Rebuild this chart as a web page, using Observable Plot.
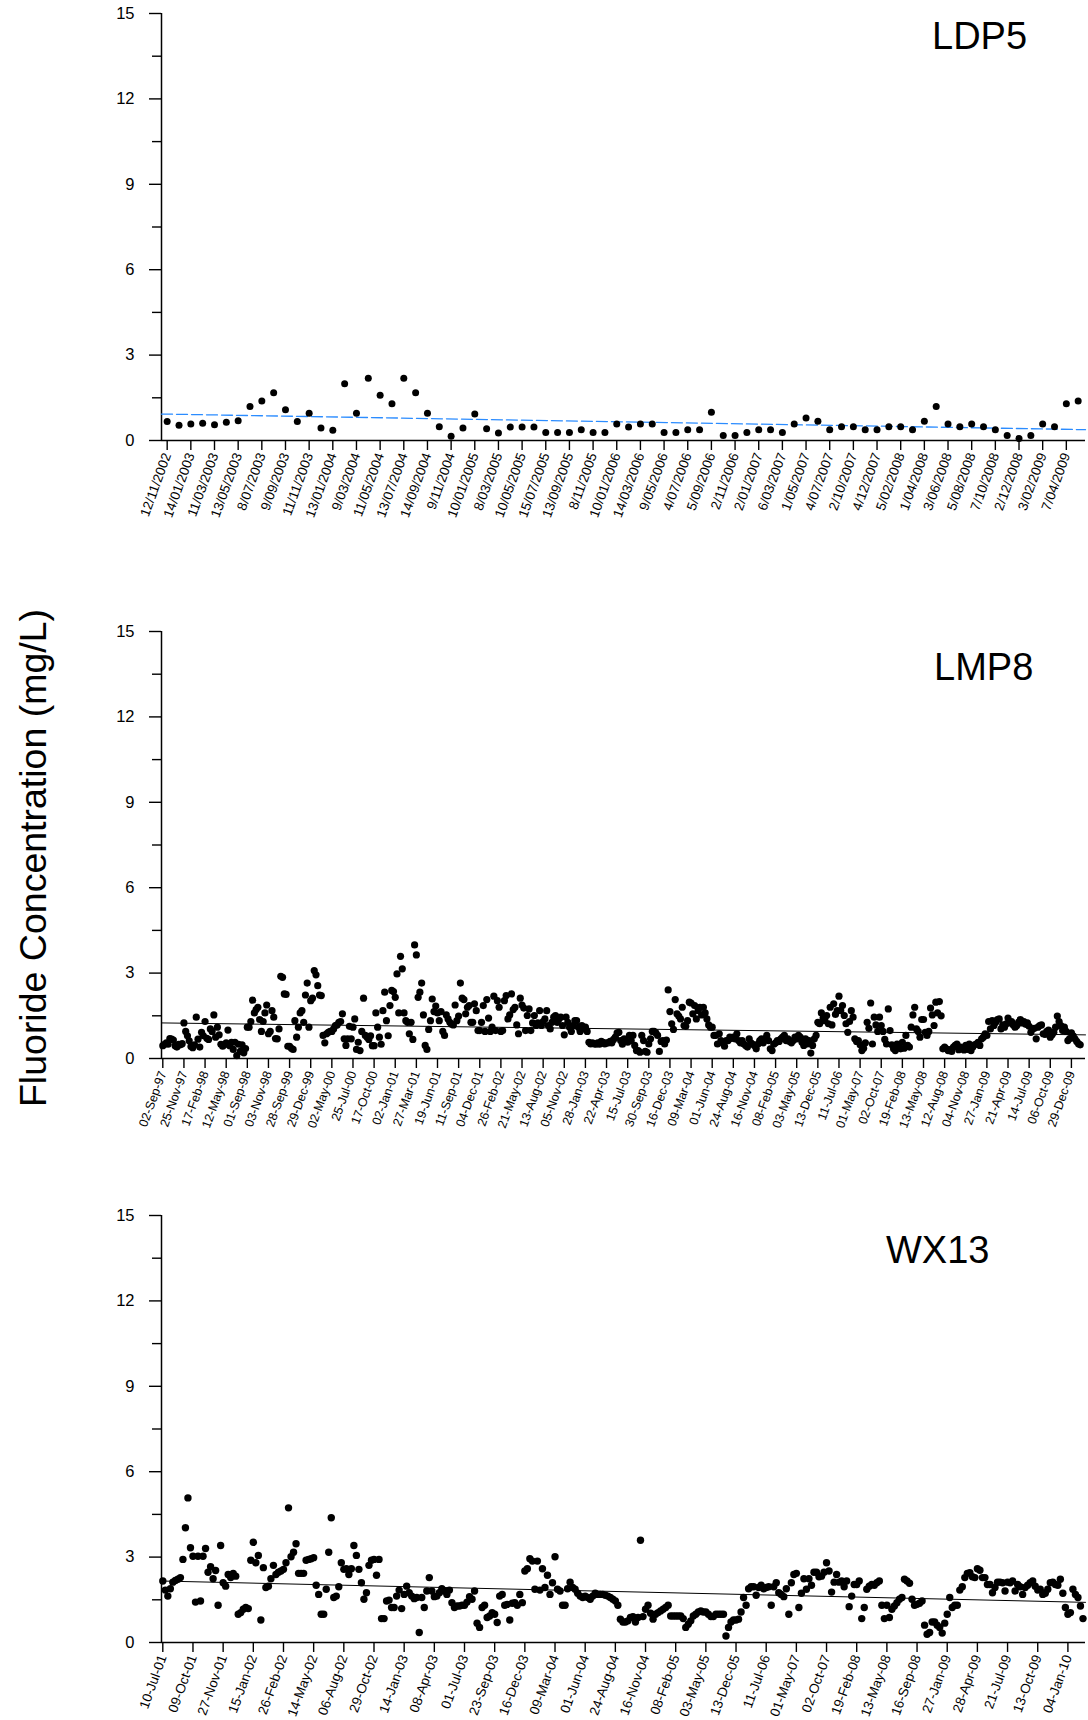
<!DOCTYPE html>
<html>
<head>
<meta charset="utf-8">
<script src="https://cdn.jsdelivr.net/npm/d3@7"></script>
<script src="https://cdn.jsdelivr.net/npm/@observablehq/plot@0.6"></script>
<style>
  body { margin: 0; background: #fff; }
  #page { position: relative; width: 1088px; height: 1720px; overflow: hidden; background: #fff;
          font-family: "Liberation Sans", Arial, sans-serif; }
  .panel { position: absolute; left: 0; }
  #overlay { position: absolute; left: 0; top: 0; pointer-events: none; }
</style>
</head>
<body>
<div id="page"></div>
<script>
// ---------------- DATA ----------------
const yMajorTicks = [0, 3, 6, 9, 12, 15];
const yMinorTicks = [1.5, 4.5, 7.5, 10.5, 13.5];
const yTitle = "Fluoride Concentration (mg/L)";

// LDP5 : one label every 2 samples
const ldp5Title = "LDP5";
const ldp5Labels = ["12/11/2002","14/01/2003","11/03/2003","13/05/2003","8/07/2003","9/09/2003","11/11/2003",
  "13/01/2004","9/03/2004","11/05/2004","13/07/2004","14/09/2004","9/11/2004","10/01/2005","8/03/2005",
  "10/05/2005","15/07/2005","13/09/2005","8/11/2005","10/01/2006","14/03/2006","9/05/2006","4/07/2006",
  "5/09/2006","2/11/2006","2/01/2007","6/03/2007","1/05/2007","4/07/2007","2/10/2007","4/12/2007",
  "5/02/2008","1/04/2008","3/06/2008","5/08/2008","7/10/2008","2/12/2008","3/02/2009","7/04/2009"];
const ldp5SamplesPerLabel = 2;
const ldp5Values = [
  0.67,0.54,0.58,0.61,0.55,0.64,0.69,1.19,1.39,1.68,
  1.08,0.67,0.96,0.44,0.36,1.99,0.96,2.19,1.59,1.29,
  2.19,1.68,0.96,0.48,0.15,0.44,0.93,0.41,0.26,0.47,
  0.47,0.47,0.28,0.28,0.28,0.38,0.28,0.28,0.58,0.47,
  0.58,0.58,0.28,0.28,0.38,0.38,0.99,0.18,0.18,0.28,
  0.38,0.38,0.28,0.58,0.79,0.68,0.38,0.48,0.48,0.38,
  0.38,0.48,0.48,0.38,0.68,1.19,0.58,0.48,0.58,0.48,
  0.38,0.18,0.07,0.18,0.58,0.48,1.29,1.39];
const ldp5Trend = [0.93, 0.38];   // trend value at the left and right ends of the axis

// LMP8 : one label every 12 samples
const lmp8Title = "LMP8";
const lmp8Labels = ["02-Sep-97","25-Nov-97","17-Feb-98","12-May-98","01-Sep-98","03-Nov-98","28-Sep-99",
  "29-Dec-99","02-May-00","25-Jul-00","17-Oct-00","02-Jan-01","27-Mar-01","19-Jun-01","11-Sep-01",
  "04-Dec-01","26-Feb-02","21-May-02","13-Aug-02","05-Nov-02","28-Jan-03","22-Apr-03","15-Jul-03",
  "30-Sep-03","16-Dec-03","09-Mar-04","01-Jun-04","24-Aug-04","16-Nov-04","08-Feb-05","03-May-05",
  "13-Dec-05","11-Jul-06","01-May-07","02-Oct-07","19-Feb-08","13-May-08","12-Aug-08","04-Nov-08",
  "27-Jan-09","21-Apr-09","14-Jul-09","06-Oct-09","29-Dec-09"];
const lmp8SamplesPerLabel = 12;
const lmp8Values = [
  0.45,0.5,0.55,0.5,0.7,0.68,0.65,0.45,0.4,0.5,0.48,0.52,
  1.25,0.95,0.8,0.62,0.42,0.38,0.48,1.45,0.68,0.4,0.92,0.8,
  1.3,0.71,0.67,1.04,0.95,1.53,0.75,1.1,0.83,0.5,0.43,0.48,
  0.55,1.0,0.45,0.57,0.32,0.57,0.1,0.5,0.25,0.48,0.2,0.35,
  1.1,1.1,1.3,2.05,1.6,1.72,1.8,1.37,0.95,1.3,1.6,1.88,
  0.87,0.95,1.68,1.45,0.7,0.69,1.04,2.89,2.85,2.27,2.25,0.43,
  0.43,0.36,0.32,1.33,0.75,1.1,1.6,1.68,1.27,2.23,2.65,1.1,
  2.03,2.12,3.09,2.94,2.56,2.23,2.21,0.81,0.55,0.87,0.92,0.95,
  0.95,1.04,1.16,1.18,1.27,1.3,1.57,0.69,0.46,0.69,1.13,0.69,
  1.1,1.39,0.32,0.57,0.28,0.95,2.12,0.81,0.75,0.67,0.8,0.45,
  0.45,1.6,1.1,0.75,0.5,1.68,2.33,1.33,0.8,1.86,2.39,2.35,
  2.15,2.97,1.6,3.59,3.15,1.6,1.33,1.27,0.87,1.27,0.67,3.99,
  3.64,2.15,2.33,2.65,1.53,0.46,0.32,1.02,1.33,2.09,1.65,1.84,
  1.6,1.33,1.65,0.95,0.81,1.53,1.39,1.27,1.2,1.18,1.88,1.33,
  1.49,2.65,2.12,2.07,1.57,1.8,1.86,1.27,1.27,1.92,1.68,0.98,
  0.98,1.27,1.86,0.95,2.07,1.42,0.95,1.1,2.19,0.98,2.03,1.8,
  0.95,0.98,2.03,2.21,1.39,1.53,2.27,1.72,1.8,1.18,0.87,2.12,
  1.88,1.77,0.98,1.51,1.74,0.98,1.25,1.51,1.16,1.25,1.68,1.16,
  1.3,1.39,1.68,1.16,1.04,1.27,1.45,1.51,1.27,1.39,1.45,1.16,
  0.83,1.45,1.27,1.1,0.95,1.16,1.33,1.33,1.1,0.95,1.16,1.04,
  1.1,0.95,0.57,0.51,0.55,0.51,0.5,0.55,0.5,0.6,0.57,0.51,
  0.55,0.55,0.6,0.55,0.67,0.75,0.9,0.92,0.63,0.5,0.69,0.6,
  0.57,0.81,0.63,0.81,0.46,0.28,0.28,0.22,0.81,0.63,0.25,0.22,
  0.51,0.69,0.95,0.95,0.9,0.81,0.25,0.6,0.63,0.51,0.65,2.41,
  1.65,1.22,1.02,2.07,1.57,1.49,1.39,1.8,1.16,1.13,1.33,1.98,
  1.95,1.57,1.86,1.39,1.68,1.8,1.53,1.8,1.6,1.39,1.18,1.1,
  1.1,0.81,0.81,0.51,0.87,0.63,0.55,0.43,0.63,0.63,0.75,0.71,
  0.75,0.69,0.87,0.63,0.55,0.63,0.51,0.46,0.4,0.69,0.55,0.5,
  0.46,0.34,0.51,0.63,0.69,0.55,0.69,0.81,0.63,0.34,0.28,0.5,
  0.55,0.63,0.6,0.69,0.75,0.81,0.63,0.69,0.6,0.55,0.63,0.75,
  0.69,0.81,0.75,0.57,0.46,0.69,0.51,0.63,0.19,0.46,0.69,0.81,
  1.27,1.22,1.6,1.42,1.33,1.51,1.22,1.8,1.18,1.92,1.55,1.68,
  2.19,1.68,1.86,1.51,1.22,0.92,1.3,1.68,1.45,0.69,0.6,0.63,
  0.48,0.28,0.36,0.55,1.27,1.06,1.95,0.51,1.45,1.18,0.95,1.45,
  1.16,0.95,0.67,0.51,1.74,0.98,0.48,0.34,0.28,0.51,0.4,0.34,
  0.57,0.36,0.81,0.46,0.4,1.1,1.53,1.8,1.04,0.95,0.75,1.37,
  1.37,0.92,0.81,0.95,1.77,1.53,1.16,1.98,1.6,2.0,1.5,0.34,
  0.4,0.34,0.28,0.31,0.25,0.4,0.46,0.51,0.31,0.4,0.34,0.3,
  0.46,0.32,0.51,0.28,0.4,0.48,0.51,0.57,0.46,0.69,0.75,0.87,
  0.81,1.3,1.04,1.33,1.16,1.27,1.37,1.39,1.04,1.18,1.1,1.22,
  1.42,1.25,1.3,1.18,1.1,1.16,1.27,1.37,1.25,1.3,1.2,1.25,
  1.13,0.92,1.04,1.06,0.69,1.1,1.16,1.18,0.87,0.85,0.95,1.0,
  0.75,0.83,0.92,1.1,1.49,1.3,1.16,0.98,1.1,0.95,0.63,0.7,
  0.9,0.8,0.69,0.6,0.52,0.48];
const lmp8Trend = [1.25, 0.83];

// WX13 : one label every 12 samples
const wx13Title = "WX13";
const wx13Labels = ["10-Jul-01","09-Oct-01","27-Nov-01","15-Jan-02","26-Feb-02","14-May-02","06-Aug-02",
  "29-Oct-02","14-Jan-03","08-Apr-03","01-Jul-03","23-Sep-03","16-Dec-03","09-Mar-04","01-Jun-04",
  "24-Aug-04","16-Nov-04","08-Feb-05","03-May-05","13-Dec-05","11-Jul-06","01-May-07","02-Oct-07",
  "19-Feb-08","13-May-08","16-Sep-08","27-Jan-09","28-Apr-09","21-Jul-09","13-Oct-09","04-Jan-10"];
const wx13SamplesPerLabel = 12;
const wx13Values = [
  2.16,1.84,1.63,1.89,2.12,2.18,2.22,2.28,2.92,4.03,5.08,3.33,
  3.03,1.42,3.03,1.46,3.03,3.3,2.47,2.66,2.24,2.53,1.31,3.41,
  2.1,1.98,2.39,2.28,2.43,2.33,0.99,1.05,1.17,1.23,1.19,2.89,
  3.52,2.8,3.06,0.79,2.63,1.93,1.98,2.24,2.71,2.39,2.47,2.51,
  2.57,2.8,4.73,3.01,3.17,3.47,2.43,2.43,2.43,2.89,2.92,2.94,
  2.98,2.01,1.69,0.99,0.99,1.87,3.17,4.38,1.58,1.63,1.96,2.8,
  2.57,2.59,2.39,2.59,3.41,3.06,2.57,2.1,1.52,1.75,2.71,2.89,
  2.92,2.36,2.92,0.84,0.84,1.46,1.49,1.23,1.23,1.63,1.84,1.19,
  1.69,1.98,1.75,1.63,1.54,1.58,0.35,1.58,1.23,1.81,2.28,1.81,
  1.61,1.63,1.75,1.89,1.81,1.69,1.84,1.4,1.23,1.28,1.28,1.31,
  1.31,1.42,1.61,1.52,1.81,0.68,0.53,1.23,1.31,0.88,0.93,1.05,
  0.99,0.7,1.63,1.69,1.31,1.34,0.79,1.38,1.4,1.31,1.69,1.4,
  2.51,2.59,2.94,2.86,1.87,2.86,1.84,2.59,1.93,2.36,1.69,2.1,
  3.01,1.87,1.81,1.31,1.31,1.89,2.12,1.93,1.87,1.73,1.63,1.58,
  1.63,1.58,1.52,1.63,1.73,1.69,1.69,1.69,1.66,1.63,1.58,1.52,
  1.46,1.31,0.82,0.72,0.72,0.76,0.88,0.91,0.72,0.88,3.59,0.91,
  1.17,1.31,1.03,0.82,0.99,1.05,1.11,1.17,1.23,1.31,0.93,0.93,
  0.93,0.93,0.93,0.84,0.53,0.64,0.76,0.93,0.99,1.07,1.11,1.07,
  1.07,0.99,0.91,0.91,0.99,0.99,0.99,0.99,0.23,0.53,0.72,0.79,
  0.79,0.82,1.07,1.58,1.31,1.89,1.96,1.96,1.66,1.93,2.01,1.89,
  1.93,1.96,1.31,1.96,2.1,1.75,1.69,1.61,1.89,0.99,2.1,2.39,
  2.43,1.23,1.73,2.24,1.87,2.24,2.01,2.47,2.47,2.31,2.33,2.47,
  2.8,2.51,1.77,2.12,2.39,2.12,2.16,1.96,2.16,1.26,1.63,2.04,
  2.04,2.16,0.84,1.23,1.87,1.98,2.04,2.01,2.1,2.16,1.31,0.84,
  1.31,0.88,1.17,1.28,1.4,1.52,1.58,2.22,2.16,2.08,1.52,1.31,
  1.34,1.38,1.46,0.61,0.29,0.35,0.72,0.72,0.61,0.53,0.33,0.68,
  0.99,1.58,1.23,1.31,1.31,1.84,1.96,2.28,2.43,2.45,2.31,2.28,
  2.59,2.54,2.28,2.28,2.04,2.04,1.75,1.93,2.12,2.12,2.1,1.81,
  2.12,2.1,2.16,1.81,2.04,1.96,1.69,1.93,2.01,2.1,2.16,1.98,
  1.84,1.87,1.69,1.73,1.87,2.1,2.12,2.04,2.01,2.22,1.73,1.23,
  0.99,1.05,1.87,1.69,1.58,1.28,0.84];
const wx13Trend = [2.16, 1.41];

// ---------------- DRAWING ----------------
const FONT = '"Liberation Sans", Arial, Helvetica, sans-serif';
const page = document.getElementById("page");
const FRAME_H = 427;

function makePanel(cfg) {
  const {values, labels, step, trend, xDomain, top, marginTop, height, labelSize,
         trendStroke, trendDash, trendWidth, dotR} = cfg;
  const data = values.map((v, i) => ({i, v}));
  const tickIdx = labels.map((_, k) => k * step);
  const trendData = [{i: xDomain[0], v: trend[0]}, {i: xDomain[1], v: trend[1]}];
  const chart = Plot.plot({
    width: 1088,
    height,
    marginLeft: 161,
    marginRight: 3,
    marginTop,
    marginBottom: height - marginTop - FRAME_H,
    x: {domain: xDomain},
    y: {domain: [0, 15]},
    style: {fontFamily: FONT, color: "#000", background: "transparent", overflow: "visible"},
    marks: [
      Plot.axisY(yMajorTicks, {tickSize: 12, tickPadding: 15, fontSize: 16.5, strokeWidth: 1.4, label: null}),
      Plot.axisY(yMinorTicks, {tickSize: 9, tickFormat: () => "", strokeWidth: 1.4, label: null}),
      Plot.axisX(tickIdx, {tickSize: 10, tickPadding: 3, tickRotate: -70, fontSize: labelSize,
        strokeWidth: 1.4, tickFormat: (d) => labels[Math.round(d / step)], label: null}),
      Plot.ruleY([0], {stroke: "#000", strokeWidth: 1.5}),
      Plot.ruleX([xDomain[0]], {y1: 0, y2: 15, stroke: "#000", strokeWidth: 1.5}),
      Plot.line(trendData, {x: "i", y: "v", stroke: trendStroke, strokeWidth: trendWidth,
        strokeDasharray: trendDash}),
      Plot.dot(data, {x: "i", y: "v", r: dotR, fill: "#000", stroke: "none"})
    ]
  });
  chart.classList.add("panel");
  chart.style.top = top + "px";
  page.appendChild(chart);
}

makePanel({values: ldp5Values, labels: ldp5Labels, step: ldp5SamplesPerLabel, trend: ldp5Trend,
  xDomain: [-0.48, 77.62], top: 0, marginTop: 13, height: 560, labelSize: 13.5,
  trendStroke: "#2b8cff", trendDash: "11,4", trendWidth: 1.3, dotR: 3.5});

makePanel({values: lmp8Values, labels: lmp8Labels, step: lmp8SamplesPerLabel, trend: lmp8Trend,
  xDomain: [-0.74, 524], top: 611, marginTop: 20, height: 560, labelSize: 12.5,
  trendStroke: "#000", trendDash: null, trendWidth: 1, dotR: 3.6});

makePanel({values: wx13Values, labels: wx13Labels, step: wx13SamplesPerLabel, trend: wx13Trend,
  xDomain: [-0.52, 367], top: 1195, marginTop: 20, height: 525, labelSize: 13.5,
  trendStroke: "#000", trendDash: null, trendWidth: 1, dotR: 3.7});

// titles and y-axis title (text overlay)
const ns = "http://www.w3.org/2000/svg";
const ov = document.createElementNS(ns, "svg");
ov.setAttribute("id", "overlay");
ov.setAttribute("width", 1088);
ov.setAttribute("height", 1720);
function addText(str, x, y, size, rotate) {
  const t = document.createElementNS(ns, "text");
  t.textContent = str;
  t.setAttribute("font-family", FONT);
  t.setAttribute("font-size", size);
  t.setAttribute("fill", "#000");
  if (rotate) {
    t.setAttribute("text-anchor", "middle");
    t.setAttribute("transform", `translate(${x},${y}) rotate(-90)`);
  } else {
    t.setAttribute("x", x);
    t.setAttribute("y", y);
  }
  ov.appendChild(t);
}
addText(ldp5Title, 932, 49, 38);
addText(lmp8Title, 934, 680, 38);
addText(wx13Title, 886, 1263, 38);
addText(yTitle, 46, 858, 37.5, true);
page.appendChild(ov);
</script>
</body>
</html>
